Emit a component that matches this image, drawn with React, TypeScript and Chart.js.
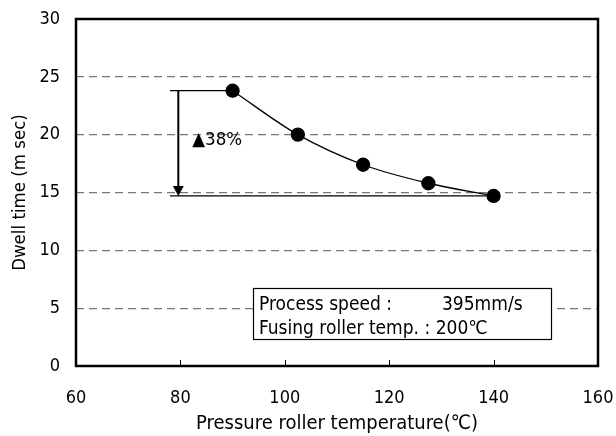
import React, { useEffect, useRef } from "react";
import { Chart, registerables } from "chart.js";

Chart.register(...registerables);

const temperatures = [90, 102.5, 115, 127.5, 140];
const dwellTimes = [23.8, 20.0, 17.4, 15.8, 14.7];
const yTicks = [0, 5, 10, 15, 20, 25, 30];
const xTicks = [60, 80, 100, 120, 140, 160];
const refLineStartX = [78.0];
const arrowX = [79.6];
const reductionLabel = "▲38%";
const boxLines = ["Process speed :", "395mm/s", "Fusing roller temp. : 200℃"];
const boxRange = { x: [93.9, 151], y: [6.74, 2.33] };

const FONT = "'DejaVu Sans Condensed', 'Liberation Sans Narrow', 'Noto Sans', sans-serif";

const zeroPad = (s: any) => {
  s.paddingLeft = 0;
  s.paddingRight = 0;
  s.paddingTop = 0;
  s.paddingBottom = 0;
};

const overlay = {
  id: "overlay",
  afterDatasetsDraw(chart: any) {
    const { ctx, chartArea, scales } = chart;
    const xs = scales.x;
    const ys = scales.y;
    ctx.save();
    ctx.strokeStyle = "#000";
    ctx.lineWidth = 1;
    xTicks.slice(1, -1).forEach((v) => {
      const px = Math.round(xs.getPixelForValue(v)) + 0.5;
      ctx.beginPath();
      ctx.moveTo(px, chartArea.bottom);
      ctx.lineTo(px, chartArea.bottom - 6);
      ctx.stroke();
    });
    const yTop = ys.getPixelForValue(dwellTimes[0]);
    const yBot = ys.getPixelForValue(dwellTimes[dwellTimes.length - 1]);
    const x0 = xs.getPixelForValue(refLineStartX[0]);
    ctx.lineWidth = 1.2;
    ctx.beginPath();
    ctx.moveTo(x0, yTop);
    ctx.lineTo(xs.getPixelForValue(temperatures[0]), yTop);
    ctx.moveTo(x0, yBot);
    ctx.lineTo(xs.getPixelForValue(temperatures[temperatures.length - 1]), yBot);
    ctx.stroke();
    const ax = xs.getPixelForValue(arrowX[0]);
    ctx.lineWidth = 2;
    ctx.beginPath();
    ctx.moveTo(ax, yTop);
    ctx.lineTo(ax, yBot - 8);
    ctx.stroke();
    ctx.fillStyle = "#000";
    ctx.beginPath();
    ctx.moveTo(ax - 5.5, yBot - 10);
    ctx.lineTo(ax + 5.5, yBot - 10);
    ctx.lineTo(ax, yBot);
    ctx.closePath();
    ctx.fill();
    ctx.font = "18.5px " + FONT;
    ctx.textBaseline = "middle";
    ctx.textAlign = "left";
    ctx.fillText(reductionLabel, ax + 14, ys.getPixelForValue(19.5));
    const bx0 = xs.getPixelForValue(boxRange.x[0]);
    const bx1 = xs.getPixelForValue(boxRange.x[1]);
    const by0 = ys.getPixelForValue(boxRange.y[0]);
    const by1 = ys.getPixelForValue(boxRange.y[1]);
    ctx.fillStyle = "#fff";
    ctx.fillRect(bx0, by0, bx1 - bx0, by1 - by0);
    ctx.lineWidth = 1.2;
    ctx.strokeRect(Math.round(bx0) + 0.5, Math.round(by0) + 0.5, Math.round(bx1 - bx0), Math.round(by1 - by0));
    ctx.fillStyle = "#000";
    ctx.font = "19px " + FONT;
    const h = by1 - by0;
    ctx.fillText(boxLines[0], bx0 + 6, by0 + h * 0.33);
    ctx.fillText(boxLines[1], bx0 + 189, by0 + h * 0.33);
    ctx.fillText(boxLines[2], bx0 + 6, by0 + h * 0.8);
    ctx.lineWidth = 2.5;
    ctx.strokeStyle = "#000";
    ctx.strokeRect(chartArea.left, chartArea.top, chartArea.right - chartArea.left, chartArea.bottom - chartArea.top);
    ctx.restore();
  },
};

export default function App() {
  const ref = useRef<HTMLCanvasElement>(null);
  useEffect(() => {
    const chart = new Chart(ref.current!, {
      type: "scatter",
      data: {
        datasets: [
          {
            data: temperatures.map((t, i) => ({ x: t, y: dwellTimes[i] })),
            showLine: true,
            borderColor: "#000",
            borderWidth: 1.3,
            backgroundColor: "#000",
            pointRadius: 6.5,
            pointBackgroundColor: "#000",
            tension: 0.4,
            cubicInterpolationMode: "monotone",
          },
        ],
      },
      options: {
        animation: false,
        responsive: false,
        events: [],
        layout: { padding: { top: 19, right: 18, left: 9, bottom: 0 } },
        plugins: { legend: { display: false }, tooltip: { enabled: false } },
        scales: {
          x: {
            type: "linear",
            min: 60,
            max: 160,
            afterBuildTicks: (s: any) => {
              s.ticks = xTicks.map((v) => ({ value: v }));
            },
            afterFit: (s: any) => {
              s.height = 70;
              zeroPad(s);
            },
            grid: { display: false, drawTicks: false },
            border: { display: false },
            ticks: {
              color: "#000",
              font: { family: FONT, size: 18 },
              padding: 22,
            },
            title: {
              display: true,
              text: "Pressure roller temperature(℃)",
              color: "#000",
              font: { family: FONT, size: 20 },
              padding: { top: 2, bottom: 0 },
            },
          },
          y: {
            min: 0,
            max: 30,
            afterBuildTicks: (s: any) => {
              s.ticks = yTicks.map((v) => ({ value: v }));
            },
            afterFit: (s: any) => {
              s.width = 67;
              zeroPad(s);
            },
            grid: {
              drawTicks: false,
              color: (c: any) => (c.tick && (c.tick.value === 0 || c.tick.value === 30) ? "rgba(0,0,0,0)" : "#777"),
              lineWidth: 1.2,
            },
            border: { display: false, dash: [8, 5] },
            ticks: {
              color: "#000",
              font: { family: FONT, size: 18 },
              padding: 16,
            },
            title: {
              display: true,
              text: "Dwell time (m sec)",
              color: "#000",
              font: { family: FONT, size: 18.5 },
              padding: { top: 0, bottom: 4 },
            },
          },
        },
      },
      plugins: [overlay],
    } as any);
    return () => chart.destroy();
  }, []);
  return (
    <div style={{ position: "fixed", left: 0, top: 0, width: 616, height: 436, background: "#fff" }}>
      <canvas ref={ref} width={616} height={436} style={{ display: "block" }} />
    </div>
  );
}
